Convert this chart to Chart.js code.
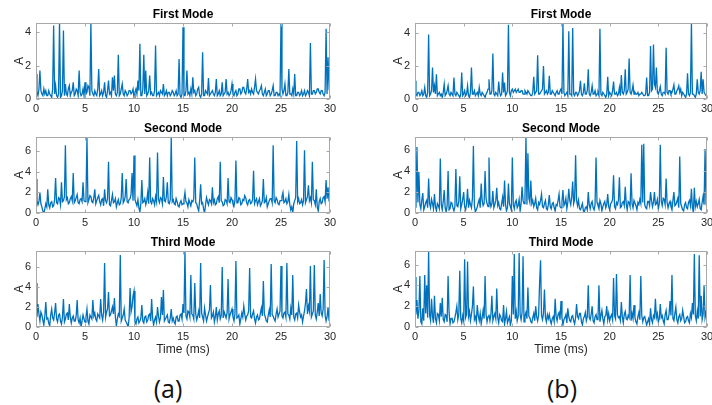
<!DOCTYPE html>
<html>
<head>
<meta charset="utf-8">
<script src="https://cdn.jsdelivr.net/npm/chart.js@4.4.0/dist/chart.umd.min.js"></script>
<style>
    body { margin: 0; background: #fff; width: 712px; height: 405px; position: relative; overflow: hidden; }
    canvas { position: absolute; }
    .tag { position: absolute; top: 371px; font-family: "Open Sans", sans-serif; font-size: 25px; color: #111; transform: translateX(-50%); }
</style>
</head>
<body>
<div class="tag" style="left:168px">(a)</div>
<div class="tag" style="left:562px">(b)</div>
<script>
// sample spacing of every series, in ms
const timeStep = 0.1;

const modeTitles = ['First Mode', 'Second Mode', 'Third Mode'];
const xTickValues = [0, 5, 10, 15, 20, 25, 30];
const yTickValues = [[0, 2, 4], [0, 2, 4, 6], [0, 2, 4, 6]];
const yMaxA = [4.55, 7.4, 7.6];
const yMaxB = [4.6, 7.25, 7.3];

// (a) column, one row = 2 ms
const firstModeA = [
    1.5, 0.4, 0.2, 0.6, 1.7, 0.5, 0.3, 0.2, 0.6, 0.3, 0.5, 0.2, 0.2, 0.5, 0.3, 0.2, 0.1, 0.6, 4.4, 0.3,
    0.8, 0.2, 0.1, 0.3, 4.6, 0.1, 0.2, 0.5, 4.1, 0.2, 0.9, 0.3, 0.2, 0.6, 0.8, 0.2, 0.4, 0.5, 1.0, 0.2,
    0.3, 0.6, 0.5, 0.2, 1.7, 0.4, 0.2, 0.3, 0.6, 0.2, 1.0, 0.3, 0.4, 0.8, 0.7, 0.2, 4.6, 0.5, 0.3, 0.2,
    0.5, 0.3, 0.2, 0.6, 1.8, 0.2, 0.3, 0.5, 0.2, 0.4, 1.0, 0.2, 0.1, 0.5, 1.1, 0.3, 0.4, 0.2, 1.3, 0.5,
    1.4, 0.3, 0.2, 0.4, 2.65, 0.2, 0.3, 0.6, 0.9, 0.3, 0.2, 0.5, 0.4, 0.2, 0.3, 0.5, 0.5, 0.3, 0.4, 0.6,
    0.1, 0.4, 0.6, 0.3, 1.1, 0.5, 3.3, 0.2, 0.2, 0.6, 2.65, 0.3, 1.7, 0.2, 0.3, 0.5, 1.4, 0.3, 0.4, 0.2,
    0.2, 0.5, 3.2, 0.2, 0.3, 0.4, 0.2, 0.5, 0.4, 0.3, 0.9, 0.2, 0.3, 0.5, 0.2, 0.4, 0.4, 0.2, 0.3, 0.5,
    0.4, 0.2, 0.3, 0.5, 0.2, 0.3, 2.4, 0.2, 0.1, 0.3, 4.3, 0.2, 0.2, 0.5, 1.7, 0.3, 0.4, 0.2, 0.6, 0.3,
    1.3, 0.4, 0.5, 0.2, 0.3, 0.6, 0.7, 0.2, 0.1, 0.3, 2.8, 0.2, 0.2, 0.5, 0.4, 0.3, 1.25, 0.2, 0.3, 0.4,
    0.5, 0.3, 0.2, 0.4, 1.2, 0.2, 0.3, 0.5, 0.2, 0.3, 1.0, 0.2, 0.3, 0.4, 1.2, 0.3, 0.4, 0.2, 0.3, 0.5,
    0.9, 0.3, 0.2, 0.4, 0.5, 0.2, 0.3, 0.6, 0.6, 0.3, 0.4, 0.7, 0.7, 0.4, 0.3, 0.6, 1.2, 0.4, 0.5, 0.3,
    0.6, 0.4, 0.3, 0.7, 1.2, 0.5, 0.4, 0.3, 0.5, 0.6, 0.8, 0.3, 0.2, 0.4, 0.6, 0.2, 0.3, 0.5, 0.5, 0.2,
    0.3, 0.5, 0.8, 0.2, 0.2, 0.4, 0.4, 0.2, 0.3, 0.2, 4.5, 0.6, 0.3, 0.5, 0.9, 0.2, 0.2, 0.4, 1.8, 0.3,
    0.3, 0.2, 0.6, 0.3, 1.5, 0.2, 0.2, 0.4, 0.4, 0.2, 0.3, 0.5, 0.2, 0.3, 0.5, 0.2, 0.3, 0.5, 0.4, 0.2,
    3.35, 0.3, 0.3, 0.5, 0.5, 0.3, 0.4, 0.6, 0.6, 0.4, 0.3, 0.5, 0.5, 0.3, 0.2, 0.4, 4.2, 0.3, 2.5, 0.8,
    1.1
];
const secondModeA = [
    3.3, 1.2, 0.8, 1.1, 2.0, 0.9, 0.6, 0.2, 0.0, 0.4, 0.9, 0.6, 2.3, 0.8, 0.5, 1.0, 1.1, 0.6, 0.7, 1.3,
    3.4, 1.0, 0.9, 1.5, 1.4, 0.8, 3.0, 1.1, 1.2, 1.6, 6.6, 1.3, 1.5, 0.9, 1.0, 1.4, 1.6, 1.2, 3.9, 1.0,
    1.2, 1.5, 1.8, 1.0, 0.9, 1.3, 1.4, 1.1, 3.0, 1.2, 1.1, 1.4, 7.4, 1.0, 1.3, 1.7, 1.6, 1.1, 1.0, 1.5,
    2.3, 0.9, 1.2, 1.5, 1.7, 1.1, 0.8, 1.3, 1.4, 0.7, 2.3, 1.2, 1.0, 1.4, 5.0, 0.8, 0.7, 1.2, 1.8, 1.0,
    1.1, 1.4, 0.6, 1.0, 1.3, 0.8, 0.9, 1.5, 3.9, 1.0, 1.2, 1.6, 3.3, 1.1, 1.0, 1.3, 1.4, 1.8, 3.9, 1.2,
    5.6, 1.3, 1.0, 0.7, 1.3, 0.5, 0.1, 0.9, 3.2, 1.0, 1.1, 1.4, 0.8, 1.2, 2.0, 0.9, 5.4, 1.1, 0.9, 1.4,
    1.2, 0.8, 1.6, 1.1, 5.9, 1.3, 1.0, 1.5, 1.4, 0.9, 3.5, 1.2, 1.1, 1.6, 3.0, 1.0, 0.9, 1.3, 7.4, 1.1,
    1.3, 0.9, 0.8, 1.4, 1.1, 0.7, 0.6, 1.0, 1.2, 0.8, 0.9, 1.3, 2.0, 1.1, 1.0, 0.6, 1.3, 1.0, 0.7, 1.2,
    1.1, 1.4, 5.4, 1.0, 0.9, 0.5, 0.2, 1.2, 2.8, 0.9, 1.0, 0.4, 0.0, 0.8, 1.5, 1.1, 0.8, 1.3, 1.2, 0.9,
    2.5, 1.0, 1.3, 0.8, 0.9, 1.4, 1.6, 1.0, 5.0, 1.2, 1.1, 0.7, 0.8, 1.3, 1.2, 0.9, 3.4, 1.1, 1.0, 1.5,
    1.3, 0.9, 0.7, 1.2, 5.1, 1.0, 1.0, 1.5, 1.4, 0.8, 0.9, 1.3, 1.2, 1.7, 1.5, 1.0, 0.8, 1.2, 1.3, 0.9,
    1.0, 1.3, 4.1, 0.9, 1.2, 1.4, 0.8, 1.1, 1.4, 0.7, 0.9, 1.2, 3.3, 1.0, 1.1, 1.5, 0.6, 0.9, 1.2, 1.4,
    1.4, 1.0, 6.6, 1.2, 1.0, 1.5, 1.3, 0.9, 0.8, 1.2, 1.2, 1.6, 2.0, 1.0, 1.1, 1.4, 0.9, 1.1, 1.8, 0.8,
    0.3, 0.6, 0.0, 0.9, 1.2, 1.5, 7.0, 1.1, 1.4, 0.9, 1.0, 1.3, 0.8, 1.2, 6.1, 1.0, 1.3, 1.6, 2.7, 1.2,
    1.5, 1.0, 5.0, 1.3, 1.2, 0.8, 2.3, 0.6, 0.2, 1.1, 1.4, 0.9, 1.0, 1.5, 1.6, 1.1, 3.2, 1.4, 2.5, 1.2,
    1.0
];
const thirdModeA = [
    4.4, 1.0, 2.3, 1.3, 0.6, 1.5, 1.2, 0.7, 0.2, 1.1, 2.5, 0.8, 0.9, 0.4, 0.1, 1.2, 1.8, 0.9, 0.7, 1.4,
    2.4, 0.8, 0.5, 1.2, 1.3, 0.6, 0.3, 1.0, 2.8, 0.5, 0.8, 1.3, 1.4, 0.7, 2.3, 1.0, 0.4, 0.9, 1.1, 0.6,
    0.6, 1.1, 2.7, 0.7, 0.4, 0.9, 0.0, 0.6, 1.2, 0.8, 0.5, 1.0, 1.8, 0.6, 0.3, 1.2, 1.0, 0.8, 2.7, 1.1,
    1.4, 0.8, 0.6, 1.3, 1.1, 0.9, 2.8, 1.2, 0.7, 1.5, 6.4, 1.0, 1.5, 1.8, 3.5, 1.1, 1.2, 1.6, 2.0, 1.3,
    2.9, 1.0, 0.1, 0.8, 1.3, 1.1, 7.2, 0.6, 0.9, 1.2, 1.8, 0.7, 0.5, 0.3, 0.0, 0.9, 3.9, 1.5, 2.0, 3.1,
    3.6, 0.5, 0.3, 0.8, 1.0, 0.4, 0.6, 0.9, 2.2, 0.6, 0.4, 1.0, 1.1, 0.5, 0.7, 1.2, 1.3, 0.6, 2.8, 0.9,
    0.2, 0.7, 1.0, 0.5, 2.0, 1.1, 0.5, 0.9, 3.0, 1.2, 3.7, 0.6, 0.8, 1.0, 1.2, 0.5, 0.4, 0.9, 1.8, 0.6,
    0.9, 0.5, 0.3, 1.0, 1.1, 0.6, 0.6, 1.2, 1.3, 0.8, 2.3, 1.4, 7.6, 1.1, 0.8, 1.6, 1.5, 1.0, 5.2, 1.3,
    1.2, 0.8, 4.4, 1.3, 0.7, 1.1, 1.6, 0.9, 6.4, 1.4, 1.0, 0.6, 1.9, 1.2, 0.6, 1.0, 1.4, 1.7, 4.2, 0.9,
    1.1, 1.5, 0.5, 1.0, 2.0, 0.7, 1.3, 1.6, 0.8, 1.1, 6.0, 0.9, 1.5, 1.2, 0.9, 1.4, 4.8, 0.8, 1.2, 1.5,
    1.8, 1.0, 0.6, 1.3, 6.6, 0.9, 1.0, 1.2, 0.3, 0.8, 1.4, 1.0, 2.1, 1.3, 0.7, 1.1, 1.2, 1.6, 5.9, 1.0,
    0.9, 1.3, 1.6, 0.8, 0.4, 1.0, 1.2, 0.7, 0.8, 1.4, 1.9, 1.1, 4.6, 1.3, 1.0, 0.6, 0.5, 1.2, 1.7, 1.0,
    6.3, 1.2, 1.1, 0.8, 0.6, 1.3, 1.8, 1.0, 1.3, 1.6, 6.1, 1.1, 0.9, 1.4, 1.5, 1.0, 6.4, 1.3, 1.2, 0.8,
    1.9, 1.2, 5.2, 1.0, 0.7, 1.3, 1.4, 0.9, 2.2, 1.5, 1.0, 1.2, 0.5, 1.1, 1.6, 2.4, 3.8, 1.3, 2.1, 1.6,
    6.1, 1.0, 1.3, 1.6, 6.2, 1.2, 0.8, 1.5, 2.4, 1.1, 3.3, 1.4, 1.1, 1.8, 6.7, 1.2, 0.6, 1.0, 2.0, 0.7,
    0.5
];

// (b) column, one row = 2 ms
const firstModeB = [
    1.1, 0.3, 0.2, 0.4, 0.4, 0.2, 0.3, 0.5, 0.2, 0.3, 0.7, 0.2, 0.1, 0.4, 3.9, 0.2, 0.3, 0.5, 1.9, 0.4,
    0.8, 0.3, 1.5, 0.2, 0.3, 0.4, 0.2, 0.3, 0.1, 0.4, 0.9, 0.2, 0.3, 0.5, 0.8, 0.3, 0.2, 0.4, 0.4, 0.2,
    1.3, 0.3, 0.2, 0.4, 0.3, 0.2, 0.1, 0.3, 1.6, 0.2, 0.3, 0.5, 0.2, 0.3, 0.8, 0.2, 0.1, 0.4, 1.9, 0.3,
    0.3, 0.5, 0.2, 0.3, 0.4, 0.2, 0.7, 0.3, 0.2, 0.4, 0.3, 0.2, 0.1, 0.3, 0.4, 0.6, 1.2, 0.3, 0.3, 0.5,
    2.75, 0.3, 0.2, 0.4, 0.3, 0.2, 1.05, 0.4, 0.2, 0.3, 1.6, 0.4, 1.0, 0.2, 0.3, 0.5, 4.5, 0.4, 0.2, 0.5,
    0.6, 0.4, 0.5, 0.6, 0.4, 0.5, 0.6, 0.4, 0.4, 0.5, 0.5, 0.3, 0.3, 0.5, 0.4, 0.3, 0.5, 0.4, 0.3, 0.2,
    0.2, 0.4, 1.35, 0.3, 0.4, 0.5, 2.65, 0.3, 0.3, 0.4, 0.5, 0.6, 2.0, 0.3, 0.4, 0.5, 0.3, 0.4, 1.4, 0.3,
    0.3, 0.5, 0.4, 0.3, 0.2, 0.4, 0.5, 0.3, 0.3, 0.5, 0.6, 0.3, 4.6, 0.4, 0.2, 0.3, 0.4, 0.2, 4.1, 0.3,
    0.3, 0.2, 4.3, 0.3, 0.2, 0.4, 0.4, 0.2, 0.3, 0.5, 1.1, 0.3, 0.2, 0.4, 0.95, 0.3, 0.3, 0.5, 1.8, 0.3,
    0.2, 0.4, 0.8, 0.3, 0.3, 0.5, 0.2, 0.3, 0.4, 0.2, 4.25, 0.3, 0.2, 0.4, 0.3, 0.2, 0.1, 0.3, 1.35, 0.2,
    0.4, 0.3, 0.2, 0.5, 1.05, 0.3, 0.3, 0.4, 0.2, 0.3, 0.7, 0.2, 1.45, 0.4, 0.3, 0.5, 1.8, 0.3, 0.4, 0.6,
    2.45, 0.4, 0.3, 0.5, 0.85, 0.3, 0.4, 0.3, 0.3, 0.4, 0.2, 0.3, 0.3, 0.4, 0.3, 0.2, 0.2, 0.3, 1.3, 0.2,
    0.2, 0.4, 3.2, 0.5, 0.6, 3.3, 0.9, 0.7, 1.9, 0.4, 0.3, 0.5, 0.75, 0.3, 0.2, 0.4, 0.4, 0.3, 3.1, 0.4,
    0.3, 0.5, 0.5, 0.3, 0.4, 0.6, 0.85, 0.3, 0.3, 0.5, 0.6, 0.8, 0.4, 0.6, 0.2, 0.4, 0.3, 0.2, 0.1, 0.3,
    1.55, 0.3, 0.2, 0.4, 4.6, 0.3, 0.3, 0.2, 0.1, 0.3, 1.2, 0.4, 0.3, 0.5, 1.65, 0.3, 1.2, 0.4, 0.3, 0.2,
    0.2
];
const secondModeB = [
    4.2, 0.5, 6.3, 1.0, 3.9, 0.8, 0.4, 1.2, 1.9, 0.3, 0.6, 1.0, 1.2, 0.5, 3.3, 0.9, 0.5, 1.3, 0.9, 0.4,
    1.8, 0.6, 0.2, 0.9, 0.7, 0.4, 5.2, 0.8, 0.3, 1.1, 2.2, 0.5, 0.1, 0.7, 4.0, 0.3, 0.4, 1.0, 0.9, 0.5,
    0.2, 0.6, 4.2, 0.7, 0.6, 1.1, 3.5, 0.4, 0.8, 1.3, 2.0, 0.6, 0.3, 0.9, 2.3, 0.5, 1.2, 0.8, 0.5, 1.4,
    6.4, 0.7, 0.1, 0.3, 0.6, 1.0, 1.3, 0.5, 2.8, 1.2, 0.7, 0.9, 4.0, 1.4, 0.9, 0.6, 5.3, 1.1, 0.6, 0.9,
    2.1, 0.5, 0.8, 1.2, 2.4, 0.7, 1.0, 0.4, 0.3, 0.9, 1.5, 0.6, 3.1, 0.8, 0.2, 0.5, 2.8, 0.9, 0.6, 0.3,
    5.3, 0.8, 0.4, 1.0, 1.2, 0.5, 0.7, 1.3, 0.2, 0.9, 2.5, 1.2, 0.9, 1.5, 7.2, 0.8, 5.7, 1.4, 1.0, 3.1,
    0.9, 1.2, 0.6, 0.9, 1.4, 0.5, 0.3, 1.0, 0.8, 1.2, 1.8, 0.6, 0.5, 0.9, 1.2, 0.4, 0.3, 0.8, 1.7, 0.6,
    0.4, 0.9, 1.0, 0.5, 0.2, 0.8, 0.7, 1.2, 1.8, 0.6, 0.5, 1.1, 2.2, 0.7, 0.9, 1.4, 0.4, 1.0, 2.3, 1.2,
    0.8, 1.5, 3.0, 0.9, 1.3, 5.5, 1.2, 0.7, 1.2, 0.4, 0.3, 0.6, 0.9, 0.2, 0.1, 0.5, 0.6, 0.3, 2.0, 0.8,
    0.4, 0.9, 1.1, 0.5, 0.3, 0.8, 5.3, 1.0, 0.7, 0.4, 1.2, 0.9, 0.2, 0.6, 0.9, 1.1, 0.5, 0.8, 1.8, 0.6,
    0.3, 0.9, 1.0, 1.3, 3.6, 0.6, 0.4, 1.0, 0.8, 1.2, 3.4, 0.5, 0.6, 1.0, 1.1, 0.7, 2.5, 0.9, 0.3, 1.1,
    1.0, 0.6, 3.8, 0.9, 0.5, 1.2, 1.2, 0.7, 0.3, 1.0, 0.8, 1.3, 0.9, 6.5, 1.0, 6.6, 0.8, 0.5, 0.4, 1.1,
    1.1, 0.7, 2.0, 1.2, 0.6, 1.0, 2.0, 0.8, 0.9, 1.3, 0.4, 0.9, 6.5, 1.1, 0.7, 1.4, 1.3, 0.8, 3.3, 1.0,
    0.5, 0.9, 1.1, 0.6, 0.3, 1.2, 2.0, 0.7, 0.8, 1.1, 1.4, 0.5, 5.4, 0.9, 0.6, 0.3, 0.2, 0.8, 1.0, 0.5,
    0.4, 1.0, 1.2, 0.7, 2.3, 0.5, 0.1, 2.4, 0.6, 1.1, 0.6, 0.9, 1.3, 0.4, 0.3, 1.0, 1.6, 0.8, 6.1, 0.9,
    0.5
];
const thirdModeB = [
    4.8, 1.2, 2.6, 0.8, 1.5, 4.9, 0.5, 0.3, 1.8, 0.6, 5.0, 1.3, 4.0, 0.9, 7.3, 1.1, 0.6, 2.7, 1.0, 0.4,
    3.0, 0.8, 0.4, 1.3, 1.2, 0.6, 2.3, 1.0, 2.8, 0.7, 0.5, 1.2, 1.1, 0.5, 4.9, 1.4, 0.3, 0.8, 0.9, 0.4,
    0.5, 0.9, 1.4, 2.0, 0.7, 1.2, 5.4, 0.8, 0.4, 1.1, 0.6, 6.5, 0.9, 1.2, 6.3, 1.0, 1.5, 0.6, 1.2, 2.0,
    3.9, 0.7, 1.0, 0.5, 2.1, 1.1, 0.6, 1.3, 0.3, 0.9, 1.6, 0.8, 4.9, 1.2, 0.5, 1.0, 1.2, 0.6, 1.2, 3.0,
    0.6, 1.0, 1.3, 0.8, 3.7, 0.9, 0.4, 1.2, 1.0, 0.6, 0.5, 2.1, 0.3, 0.8, 1.5, 0.4, 0.7, 1.0, 0.2, 0.6,
    4.9, 1.2, 7.0, 0.8, 1.5, 0.6, 1.0, 7.1, 1.2, 0.7, 1.4, 6.8, 0.5, 1.1, 1.4, 0.8, 3.8, 1.0, 0.9, 0.5,
    0.4, 0.9, 1.3, 0.6, 2.0, 1.0, 0.6, 1.1, 4.2, 6.4, 1.1, 0.7, 1.3, 3.6, 0.9, 0.5, 1.2, 0.8, 1.2, 0.6,
    0.3, 0.8, 1.0, 0.5, 2.7, 1.0, 0.6, 1.2, 1.4, 0.7, 2.5, 0.9, 0.2, 0.7, 0.9, 1.2, 0.4, 1.8, 1.0, 0.6,
    0.5, 1.0, 1.1, 0.6, 0.3, 0.9, 2.2, 1.0, 0.8, 1.3, 1.3, 0.5, 0.2, 0.8, 1.0, 1.4, 0.6, 1.0, 4.0, 0.9,
    0.7, 1.2, 2.0, 0.6, 0.4, 1.0, 1.2, 0.7, 0.8, 4.0, 0.5, 1.1, 1.6, 0.8, 0.3, 1.0, 1.1, 2.0, 0.7, 1.3,
    0.6, 1.0, 1.2, 0.7, 4.7, 1.1, 0.8, 5.1, 1.2, 0.9, 1.0, 0.6, 2.4, 1.0, 0.4, 1.2, 1.5, 0.8, 0.7, 1.1,
    0.9, 5.0, 0.6, 1.3, 0.8, 2.1, 0.9, 0.5, 0.3, 1.0, 1.4, 0.7, 4.9, 1.1, 0.5, 0.9, 1.0, 0.6, 0.2, 0.5,
    0.8, 0.3, 1.8, 0.7, 0.4, 1.1, 0.9, 2.7, 0.9, 1.3, 0.5, 0.8, 2.2, 0.9, 1.1, 0.6, 0.3, 1.2, 1.6, 0.7,
    0.7, 1.2, 2.5, 1.1, 5.0, 0.8, 0.6, 1.3, 1.9, 0.7, 0.4, 1.0, 1.2, 0.6, 0.8, 1.6, 1.0, 0.4, 0.5, 0.9,
    1.0, 0.6, 0.4, 1.3, 0.9, 2.3, 1.2, 7.0, 1.1, 0.6, 1.5, 0.8, 6.9, 1.0, 3.0, 0.7, 1.2, 4.0, 0.9, 1.4,
    0.5
];

const seriesA = [firstModeA, secondModeA, thirdModeA];
const seriesB = [firstModeB, secondModeB, thirdModeB];

// matlab style frame, inward ticks and panel title
const framePlugin = {
    id: 'frame',
    afterDatasetsDraw(chart, args, opts) {
        const ctx = chart.ctx;
        const a = chart.chartArea;
        const x = chart.scales.x;
        const y = chart.scales.y;
        const l = Math.round(a.left) + 0.5;
        const r = Math.round(a.right) - 0.5;
        const t = Math.round(a.top) + 0.5;
        const b = Math.round(a.bottom) - 0.5;
        ctx.save();
        ctx.strokeStyle = '#a8a8a8';
        ctx.lineWidth = 1;
        ctx.strokeRect(l, t, r - l, b - t);
        ctx.beginPath();
        x.ticks.forEach(function (tk) {
            var px = Math.round(x.getPixelForValue(tk.value)) + 0.5;
            ctx.moveTo(px, b); ctx.lineTo(px, b - 3);
            ctx.moveTo(px, t); ctx.lineTo(px, t + 3);
        });
        y.ticks.forEach(function (tk) {
            var py = Math.round(y.getPixelForValue(tk.value)) + 0.5;
            ctx.moveTo(l, py); ctx.lineTo(l + 3, py);
            ctx.moveTo(r, py); ctx.lineTo(r - 3, py);
        });
        ctx.stroke();
        ctx.fillStyle = '#000';
        ctx.font = 'bold 12px "Liberation Sans", Arial, sans-serif';
        ctx.textAlign = 'center';
        ctx.textBaseline = 'middle';
        ctx.fillText(opts.text, (a.left + a.right) / 2, a.top - 8);
        ctx.restore();
    }
};

function makePanel(values, row, col) {
    const isLast = row === 2;
    const left = col === 0 ? 0 : 379;
    const width = col === 0 ? 340 : 333;
    const top = [0, 114, 228][row];
    const height = isLast ? 133 : 115;

    const canvas = document.createElement('canvas');
    canvas.width = width;
    canvas.height = height;
    canvas.style.left = left + 'px';
    canvas.style.top = top + 'px';
    document.body.appendChild(canvas);

    const points = values.map(function (v, i) {
        return { x: i * timeStep, y: v };
    });

    new Chart(canvas, {
        type: 'line',
        data: {
            datasets: [{
                data: points,
                borderColor: '#0072BD',
                borderWidth: 1.3,
                pointRadius: 0,
                tension: 0
            }]
        },
        options: {
            responsive: false,
            animation: false,
            devicePixelRatio: 1,
            layout: { padding: { top: 23, left: 12, right: col === 0 ? 10 : 5, bottom: 0 } },
            plugins: {
                legend: { display: false },
                title: { display: false },
                tooltip: { enabled: false },
                frame: { text: modeTitles[row] }
            },
            scales: {
                x: {
                    type: 'linear',
                    min: 0,
                    max: 30,
                    grid: { display: false, drawTicks: false },
                    border: { display: false },
                    ticks: {
                        color: '#262626',
                        padding: 3,
                        maxRotation: 0,
                        font: { family: '"Liberation Sans", Arial, sans-serif', size: 11 }
                    },
                    afterBuildTicks: function (scale) {
                        scale.ticks = xTickValues.map(function (v) { return { value: v }; });
                    },
                    afterFit: function (scale) {
                        scale.height = isLast ? 34 : 16;
                        scale.paddingLeft = 0;
                        scale.paddingRight = 0;
                    },
                    title: {
                        display: isLast,
                        text: 'Time (ms)',
                        color: '#262626',
                        padding: { top: 0, bottom: 4 },
                        font: { family: '"Liberation Sans", Arial, sans-serif', size: 12 }
                    }
                },
                y: {
                    min: 0,
                    max: (col === 0 ? yMaxA : yMaxB)[row],
                    grid: { display: false, drawTicks: false },
                    border: { display: false },
                    ticks: {
                        color: '#262626',
                        padding: 5,
                        font: { family: '"Liberation Sans", Arial, sans-serif', size: 11 }
                    },
                    afterBuildTicks: function (scale) {
                        scale.ticks = yTickValues[row].map(function (v) { return { value: v }; });
                    },
                    afterFit: function (scale) {
                        scale.width = 24;
                        scale.paddingTop = 0;
                        scale.paddingBottom = 0;
                    },
                    title: {
                        display: true,
                        text: 'A',
                        color: '#262626',
                        padding: 0,
                        font: { family: '"Liberation Sans", Arial, sans-serif', size: 12 }
                    }
                }
            }
        },
        plugins: [framePlugin]
    });
}

seriesA.forEach(function (s, row) { makePanel(s, row, 0); });
seriesB.forEach(function (s, row) { makePanel(s, row, 1); });
</script>
</body>
</html>
